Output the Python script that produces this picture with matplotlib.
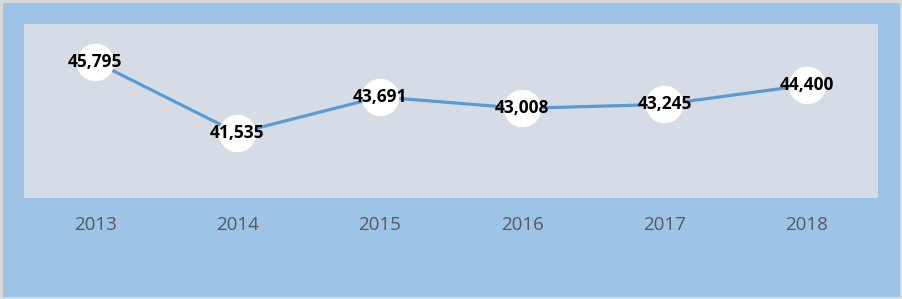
import matplotlib.pyplot as plt

years = ["2013", "2014", "2015", "2016", "2017", "2018"]
values = [45795, 41535, 43691, 43008, 43245, 44400]

plt.rcParams['font.family'] = ['Open Sans', 'DejaVu Sans']

fig = plt.figure(figsize=(9.02, 2.99), dpi=100, facecolor="#9DC3E6",
                 edgecolor="#D9D9D9", linewidth=2.5)
ax = fig.add_axes([24 / 902, 1 - 198 / 299, 854 / 902, 174 / 299])
ax.set_facecolor("#D6DCE5")

x = list(range(len(years)))
ax.plot(x, values, color="#5B9BD5", linewidth=2.3, zorder=2)
ax.plot(x, values, linestyle="none", marker="o", markersize=26,
        markerfacecolor="white", markeredgecolor="white", zorder=3)
for xi, v in zip(x, values):
    ax.text(xi, v, f"{v:,}", ha="center", va="center", fontsize=12.5,
            fontweight="bold", color="black", zorder=4)

ax.set_xlim(-0.5, len(years) - 0.5)
ax.set_ylim(37650, 48050)
ax.set_xticks(x)
ax.set_xticklabels(years, fontsize=13.5, color="#595959")
ax.set_yticks([])
ax.tick_params(axis="x", length=0, pad=13)
for s in ax.spines.values():
    s.set_visible(False)

fig.savefig("out.png", dpi=100, facecolor=fig.get_facecolor(),
            edgecolor=fig.get_edgecolor())
